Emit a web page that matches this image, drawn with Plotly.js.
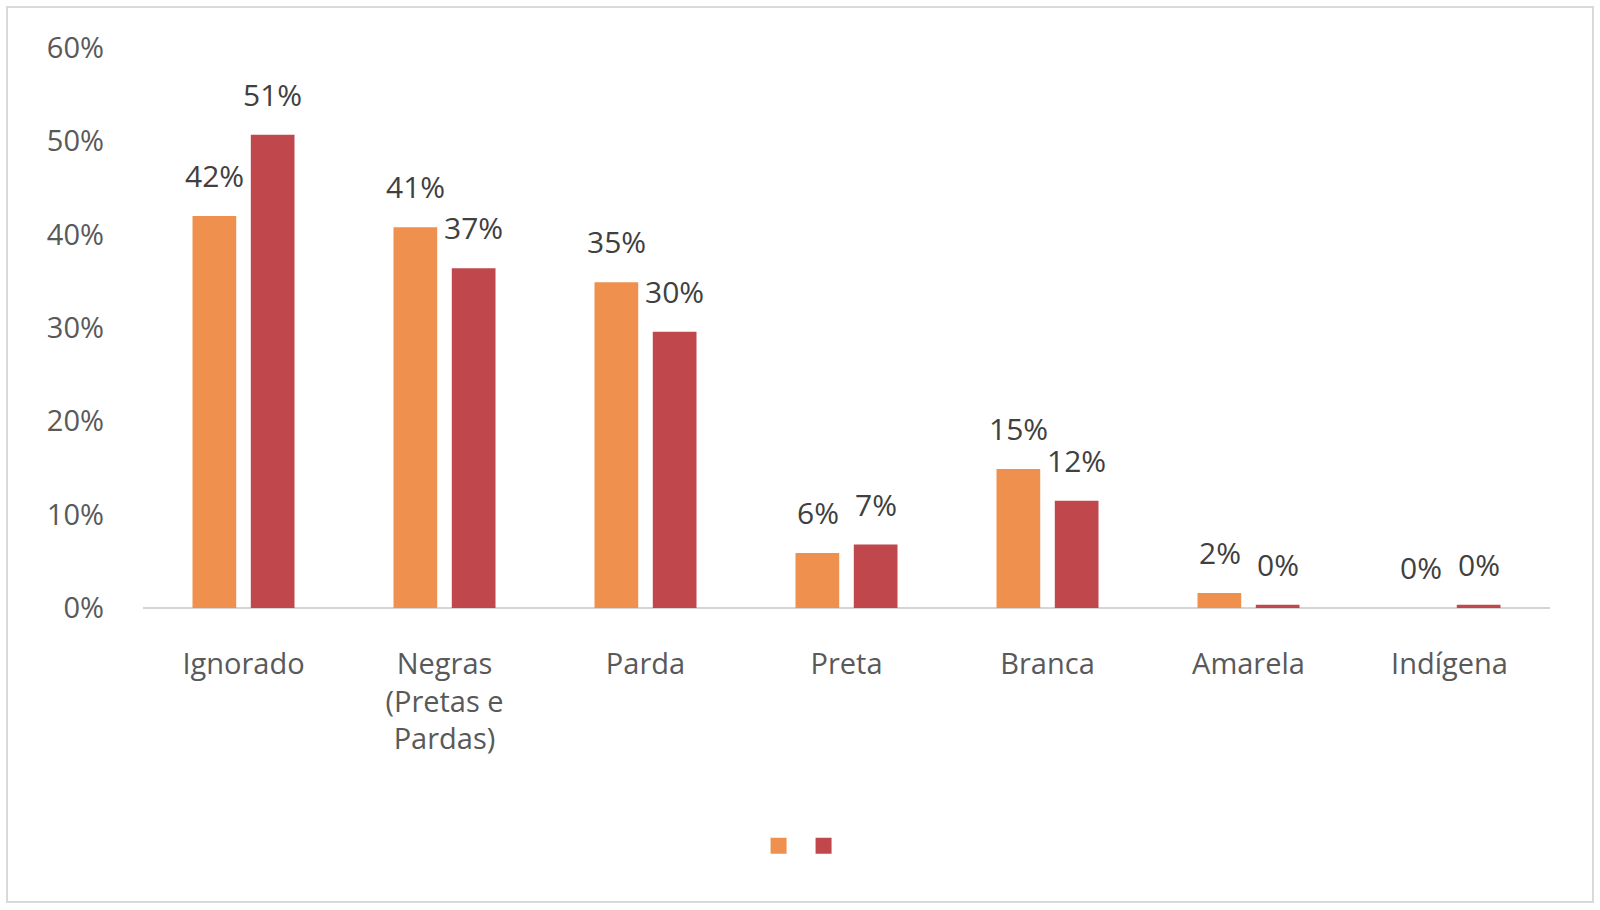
<!DOCTYPE html>
<html>
<head>
<meta charset="utf-8">
<script src="https://cdn.plot.ly/plotly-3.0.1.min.js"></script>
<style>
    body { margin: 0; background: #ffffff; }
    #chart {
        position: absolute;
        left: 6px;
        top: 6px;
        width: 1584px;
        height: 893px;
        border: 2px solid #d9d9d9;
    }
</style>
</head>
<body>
<div id="chart"></div>
<script>
// Chart data
const categories = ['Ignorado', 'Negras<br>(Pretas e<br>Pardas)', 'Parda', 'Preta', 'Branca', 'Amarela', 'Indígena'];
const seriesA = [42.0, 40.8, 34.9, 5.9, 14.9, 1.6, 0];
const seriesB = [50.7, 36.4, 29.6, 6.8, 11.5, 0.35, 0.35];
const labelsA = ['42%', '41%', '35%', '6%', '15%', '2%', '0%'];
const labelsB = ['51%', '37%', '30%', '7%', '12%', '0%', '0%'];
const yTickVals = [0, 10, 20, 30, 40, 50, 60];
const yTickText = ['0%', '10%', '20%', '30%', '40%', '50%', '60%'];

const orange = '#F0904F';
const red = '#C0484C';
const fontFamily = '"Open Sans", "Liberation Sans", sans-serif';

function barTrace(values, color) {
    return {
        type: 'bar',
        x: categories,
        y: values,
        marker: { color: color },
        showlegend: false,
        hoverinfo: 'skip'
    };
}

// legend-only traces so the swatches can be sized like the original
function legendTrace(color) {
    return {
        type: 'scatter',
        mode: 'markers',
        x: [null],
        y: [null],
        name: '',
        marker: { symbol: 'square', size: 20, color: color },
        showlegend: true
    };
}

// value labels sit well above the bars, like the original
function valueLabels(values, labels, shift) {
    return values.map((v, i) => ({
        x: categories[i],
        y: v,
        text: labels[i],
        showarrow: false,
        xshift: shift,
        yshift: 18,
        yanchor: 'bottom',
        font: { family: fontFamily, size: 30, color: '#404040' }
    }));
}

const data = [
    barTrace(seriesA, orange),
    barTrace(seriesB, red),
    legendTrace(orange),
    legendTrace(red)
];

const layout = {
    width: 1584,
    height: 893,
    margin: { l: 135, r: 42, t: 40, b: 293 },
    paper_bgcolor: '#ffffff',
    plot_bgcolor: '#ffffff',
    font: { family: fontFamily, size: 28, color: '#595959' },
    barmode: 'group',
    bargap: 0.42,
    bargroupgap: 0.25,
    xaxis: {
        type: 'category',
        showgrid: false,
        showline: false,
        ticks: '',
        ticklabelstandoff: 36,
        tickfont: { family: fontFamily, size: 29, color: '#595959' }
    },
    yaxis: {
        range: [0, 60],
        tickvals: yTickVals,
        ticktext: yTickText,
        showgrid: false,
        zeroline: true,
        zerolinecolor: '#d4d4d4',
        zerolinewidth: 2,
        showline: false,
        ticks: '',
        ticklabelstandoff: 38,
        tickfont: { family: fontFamily, size: 29, color: '#595959' }
    },
    annotations: valueLabels(seriesA, labelsA, -29).concat(valueLabels(seriesB, labelsB, 29)),
    showlegend: true,
    legend: {
        orientation: 'h',
        x: 0.4375,
        xanchor: 'left',
        y: -0.4246,
        yanchor: 'middle',
        font: { size: 16 },
        itemclick: false
    }
};

Plotly.newPlot('chart', data, layout, { displayModeBar: false, staticPlot: true });
</script>
</body>
</html>
